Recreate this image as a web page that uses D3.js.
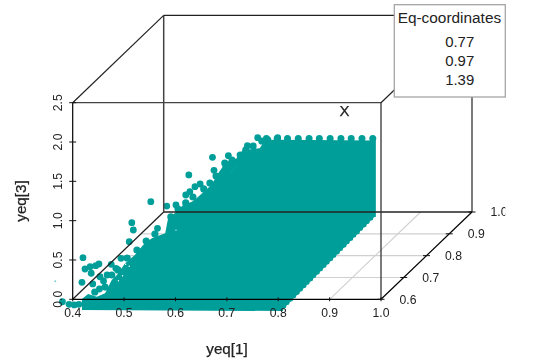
<!DOCTYPE html>
<html><head><meta charset="utf-8">
<script src="https://cdn.jsdelivr.net/npm/d3@7"></script>
<style>html,body{margin:0;padding:0;background:#fff}svg{display:block;filter:blur(0.35px)}text{font-family:"Liberation Sans",Arial,sans-serif;fill:#222}</style>
</head><body><svg id="c" width="534" height="364"></svg>
<script>
// Values. Cloud values are given on the front plane yeq[2] = 0.6.
const xTicks=[0.4,0.5,0.6,0.7,0.8,0.9,1.0];
const yTicks=[0.6,0.7,0.8,0.9,1.0];
const zTicks=[0,0.5,1,1.5,2,2.5];
const eqTitle="Eq-coordinates";
const eqValues=["0.77","0.97","1.39"];
// upper-left outline of the dense cloud
const massX=[.418,.418,.430,.447,.463,.476,.486,.502,.521,.537,.554,.580,.585,.599,.615,.632,.641,.670,.683,.692,.719,.731,.764,.774,.797,.990];
const massZ=[-.136,.004,.067,.033,.076,.245,.309,.458,.563,.690,.776,.839,1.008,1.097,1.199,1.241,1.284,1.453,1.602,1.686,1.793,1.899,1.920,2.026,2.030,2.020];
// stepped lower-right edge of the cloud
const stairX=[.990,.984,.977,.971,.964,.958,.951,.945,.938,.932,.925,.919,.912,.906,.899,.893,.886,.880,.873,.867,.860,.854,.847,.841,.834,.828,.821,.815,.809];
const stairZ=[1.050,1.007,.964,.921,.878,.835,.793,.750,.707,.664,.621,.578,.535,.492,.449,.406,.364,.321,.278,.235,.192,.149,.106,.063,.020,-.023,-.066,-.109,-.149];
// separately visible points
const ptX=[.420,.424,.434,.445,.451,.436,.418,.439,.452,.453,.460,.467,.475,.484,.494,.510,.518,.515,.552,.565,.583,.601,.380,.393,.403,.412,.626,.620,.628,.638,.648,.672,.675,.760,.703,.740,.698,.706,.780,.799];
const ptZ=[.529,.385,.415,.427,.449,.331,.216,.195,.131,.287,.233,.309,.445,.394,.521,.732,.881,.974,1.241,.903,1.186,1.199,-.031,-.064,-.072,-.064,1.581,1.326,1.368,1.432,1.466,1.806,1.640,2.055,1.826,1.953,1.686,1.717,2.026,2.055];
// points that roughen the cloud's upper-left edge
const edgeX=[.476,.488,.506,.525,.543,.560,.591,.605,.620,.634,.655,.667,.679,.696,.710,.726,.737,.751,.768,.443,.463];
const edgeZ=[.309,.373,.525,.627,.741,.830,1.047,1.148,1.225,1.301,1.403,1.479,1.568,1.733,1.771,1.835,1.899,1.949,2.013,.093,.156];
// top row of points along the cloud's flat upper edge
const topX=[.984,.963,.942,.922,.901,.880,.860,.839,.818,.798,.777];
const topZ=2.045;
// white gaps inside the cloud
const gapX=[.705,.720,.722,.707];
const gapZ=[1.600,1.700,1.715,1.612];
const speckX=[.497,.503,.510,.489,.601,.660];
const speckZ=[.300,.445,.420,.235,.880,1.510];

const sx=d3.scaleLinear().domain([0.4,1]).range([72.7,381]);
const sz=d3.scaleLinear().domain([0,2.5]).range([299.3,102.7]);
const dx=d3.scaleLinear().domain([0.6,1]).range([0,91]);
const dy=d3.scaleLinear().domain([0.6,1]).range([0,-87.3]);
const P=(x,y,z)=>[sx(x)+dx(y),sz(z)+dy(y)];
const TEAL="#009e99";
const svg=d3.select("#c");
const root=svg.append("g");
svg.append("defs").append("clipPath").attr("id","clip").append("rect").attr("width",505.3).attr("height",364);
const g=root.append("g").attr("clip-path","url(#clip)");
const seg=(a,b,c,w)=>g.append("line").attr("x1",a[0]).attr("y1",a[1]).attr("x2",b[0]).attr("y2",b[1]).attr("stroke",c).attr("stroke-width",w);
const dots=(xs,zs,r)=>g.append("g").selectAll("circle").data(xs).join("circle")
 .attr("cx",(d,i)=>P(d,.6,zs[i])[0]).attr("cy",(d,i)=>P(d,.6,zs[i])[1]).attr("r",r).attr("fill",TEAL);

// floor grid
xTicks.slice(1,-1).forEach(v=>seg(P(v,.6,0),P(v,1,0),"#d0d0d0",1.1));
yTicks.slice(1,-1).forEach(v=>seg(P(.4,v,0),P(1,v,0),"#d0d0d0",1.1));

// cloud
const outline=massX.map((x,i)=>[x,massZ[i]]);
stairX.forEach((x,i)=>{
  outline.push([x,stairZ[i]]);
  if(i<stairX.length-1){ // shallow notch between neighbouring edge points
    const mx=(x+stairX[i+1])/2, mz=(stairZ[i]+stairZ[i+1])/2;
    outline.push([(mx+stairX[i+1])/2,(mz+stairZ[i])/2]);
  }
});
const line=d3.line().x(d=>P(d[0],.6,d[1])[0]).y(d=>P(d[0],.6,d[1])[1]);
g.append("path").attr("d",line(outline)+"Z").attr("fill",TEAL);
dots(ptX,ptZ,3.4);
dots(edgeX,edgeZ,3.6);
dots(topX,topX.map(()=>topZ),3.5);
g.append("path").attr("d",line(gapX.map((x,i)=>[x,gapZ[i]]))+"Z").attr("fill","#fff");
g.append("g").selectAll("circle").data(speckX).join("circle")
 .attr("cx",(d,i)=>P(d,.6,speckZ[i])[0]).attr("cy",(d,i)=>P(d,.6,speckZ[i])[1]).attr("r",.7).attr("fill","#fff");
g.append("circle").attr("cx",P(.366,.6,.23)[0]).attr("cy",P(.366,.6,.23)[1]).attr("r",1).attr("fill",TEAL).attr("opacity",.5);

// box
const c="#222",w=1.3;
seg(P(.4,.6,2.5),P(1,.6,2.5),"#444",1.3);
seg(P(.4,1,2.5),P(1,1,2.5),c,1.2);
seg(P(.4,1,0),P(1,1,0),c,w);
seg(P(.4,1,0),P(.4,1,2.5),"#444",1.5);
seg(P(1,1,0),P(1,1,2.5),c,1.2);
seg(P(1,.6,0),P(1,.6,2.5),"#333",1.3);
seg(P(.4,.6,2.5),P(.4,1,2.5),c,1.2);
seg(P(1,.6,2.5),P(1,1,2.5),c,1.2);
seg(P(.4,.6,0),P(.4,1,0),c,1.3);
seg(P(.4,.6,0),P(.4,.6,2.5),"#000",1.2);
seg(P(.4,.6,0),P(1,.6,0),"#000",1.2);
seg(P(1,.6,0),P(1,1,0),"#000",1.2);

// ticks
xTicks.forEach(v=>{const p=P(v,.6,0);seg([p[0],p[1]-2],[p[0],p[1]+2],"#111",1);});
zTicks.forEach(v=>{const p=P(.4,.6,v);seg([p[0]-3.5,p[1]],[p[0]+3.5,p[1]],"#111",1);});
yTicks.forEach(v=>{const p=P(1,v,0);seg([p[0]-3.5,p[1]],[p[0]+3.5,p[1]],"#111",1);});

// tick labels
const label=(t,x,y,size,anchor,rot)=>{const e=g.append("text").text(t).attr("font-size",size).attr("text-anchor",anchor||"middle");
 if(rot) e.attr("transform",`translate(${x},${y}) rotate(${rot})`); else e.attr("x",x).attr("y",y); return e;};
xTicks.forEach(v=>label(v.toFixed(1),P(v,.6,0)[0],317,12.2));
zTicks.forEach(v=>label(v.toFixed(1),61.5,P(.4,.6,v)[1],12.2,"middle",-90));
yTicks.forEach(v=>{const p=P(1,v,0);label(v.toFixed(1),p[0]+27,p[1]+4.2,12.2);});
const big=[label("yeq[1]",227,354,15.2),label("yeq[3]",26,201,15.2,"middle",-90),label("yeq[2]",532,213,15.2,"middle",-90),label("X",344.5,115.5,15)];
big.forEach(e=>e.attr("stroke","#222").attr("stroke-width",.25));

// legend box
const lg=root.append("g");
lg.append("rect").attr("x",394.3).attr("y",4.7).attr("width",111).attr("height",92.3).attr("fill","#fff").attr("stroke","#a5a5a5").attr("stroke-width",1.3);
lg.append("text").text(eqTitle).attr("x",449.4).attr("y",23).attr("font-size",15.4).attr("text-anchor","middle");
lg.selectAll("text.v").data(eqValues).join("text").attr("class","v").text(d=>d).attr("x",459.7).attr("y",(d,i)=>[47,66,85][i]).attr("font-size",14.9).attr("text-anchor","middle");
</script></body></html>
